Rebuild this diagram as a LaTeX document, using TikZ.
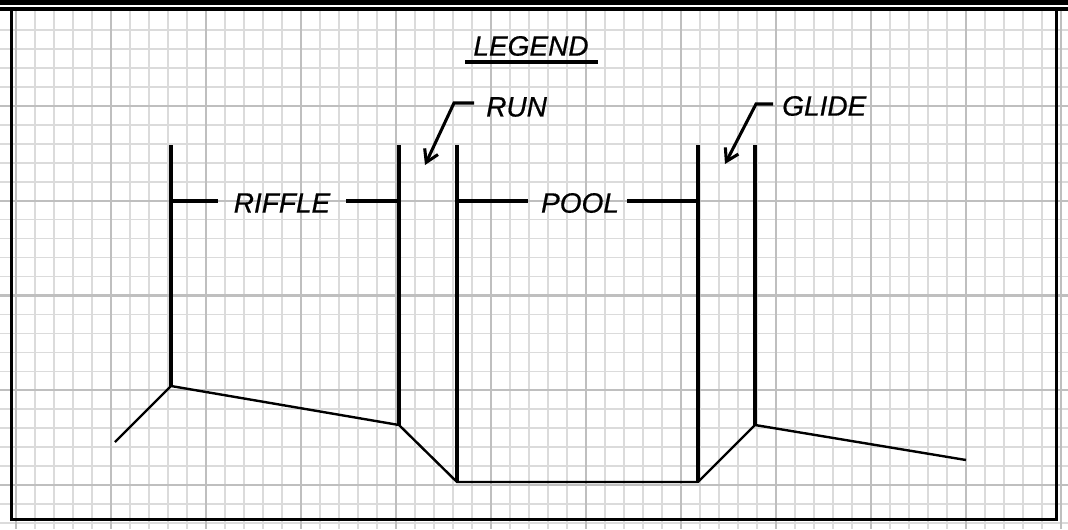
\documentclass[tikz,border=0pt]{standalone}
\usepackage{fontspec}
\setmainfont{Liberation Sans}[ItalicFeatures={FakeBold=0.6}]
\usetikzlibrary{arrows.meta}
\tikzset{
  minorgrid/.style={draw=black!14, line width=1.1pt},
  majorgrid/.style={draw=black!25, line width=1.6pt},
  frame/.style={draw=black, line width=2.7pt},
  heavy/.style={draw=black, line width=2.3pt},
  profile/.style={draw=black, line width=1.8pt},
  lbl/.style={font=\fontsize{21}{21}\selectfont\itshape, inner sep=0pt, text=black},
  leader/.style={draw=black, line width=2.3pt, -{Straight Barb[length=9pt,width=11pt,line width=2.3pt]}},
}
\begin{document}
\begin{tikzpicture}[x=0.75pt,y=-0.75pt]
\useasboundingbox (0,0) rectangle (1068,529);
\fill[white] (0,0) rectangle (1068,529);
% grid
\foreach \k in {-5,...,50} {
  \pgfmathsetmacro\xx{111+19*\k}
  \draw[minorgrid] (\xx,11) -- (\xx,529);
}
\foreach \j in {-4,...,22} {
  \pgfmathsetmacro\yy{106+18.95*\j}
  \draw[minorgrid] (0,\yy) -- (1068,\yy);
}
\foreach \k in {-1,...,10} {
  \pgfmathsetmacro\xx{111+95*\k}
  \draw[majorgrid] (\xx,11) -- (\xx,529);
}
\foreach \j in {0,...,4} {
  \pgfmathsetmacro\yy{106+94.75*\j}
  \draw[majorgrid] (0,\yy) -- (1068,\yy);
}
% top bars
\fill[black] (0,0) rectangle (1068,4.5);
\fill[black] (0,7) rectangle (1068,11);
% frame
\draw[frame] (11.5,11) -- (11.5,519.5) -- (1056.5,519.5) -- (1056.5,11);

% coordinates
\coordinate (p0) at (115,442);
\coordinate (p1) at (171,386);
\coordinate (p2) at (399,425);
\coordinate (p3) at (457,482);
\coordinate (p4) at (698,482);
\coordinate (p5) at (755,425);
\coordinate (p6) at (966,460);
\coordinate (t1) at (171,145);
\coordinate (t2) at (399,145);
\coordinate (t3) at (457,145);
\coordinate (t4) at (698,145);
\coordinate (t5) at (755,145);

% verticals
\draw[heavy] (t1) -- (p1);
\draw[heavy] (t2) -- (p2);
\draw[heavy] (t3) -- (p3);
\draw[heavy] (t4) -- (p4);
\draw[heavy] (t5) -- (p5);

% profile
\draw[profile] (p0) -- (p1) -- (p2) -- (p3) -- (p4) -- (p5) -- (p6);

% dimension labels
\node[lbl] (riffle) at (282,203) {RIFFLE};
\node[lbl] (pool) at (580,203) {POOL};
\coordinate (r1) at (171,201);
\coordinate (r2) at (399,201);
\coordinate (q1) at (457,201);
\coordinate (q2) at (698,201);
\draw[heavy] (r1) -- (218,201);
\draw[heavy] (346,201) -- (r2);
\draw[heavy] (q1) -- (528,201);
\draw[heavy] (627,201) -- (q2);

% legend
\node[lbl] (legend) at (531,46) {LEGEND};
\coordinate (u1) at (465,62);
\coordinate (u2) at (598,62);
\draw[heavy] (u1) -- (u2);

% RUN
\node[lbl, anchor=west] (run) at (486,107) {RUN};
\coordinate (rl1) at (474,103);
\coordinate (rl2) at (454,103);
\coordinate (rtip) at (425,165);
\draw[leader] (rl1) -- (rl2) -- (rtip);

% GLIDE
\node[lbl, anchor=west] (glide) at (782,106) {GLIDE};
\coordinate (gl1) at (773,104);
\coordinate (gl2) at (756,104);
\coordinate (gtip) at (725,164);
\draw[leader] (gl1) -- (gl2) -- (gtip);
\end{tikzpicture}
\end{document}
